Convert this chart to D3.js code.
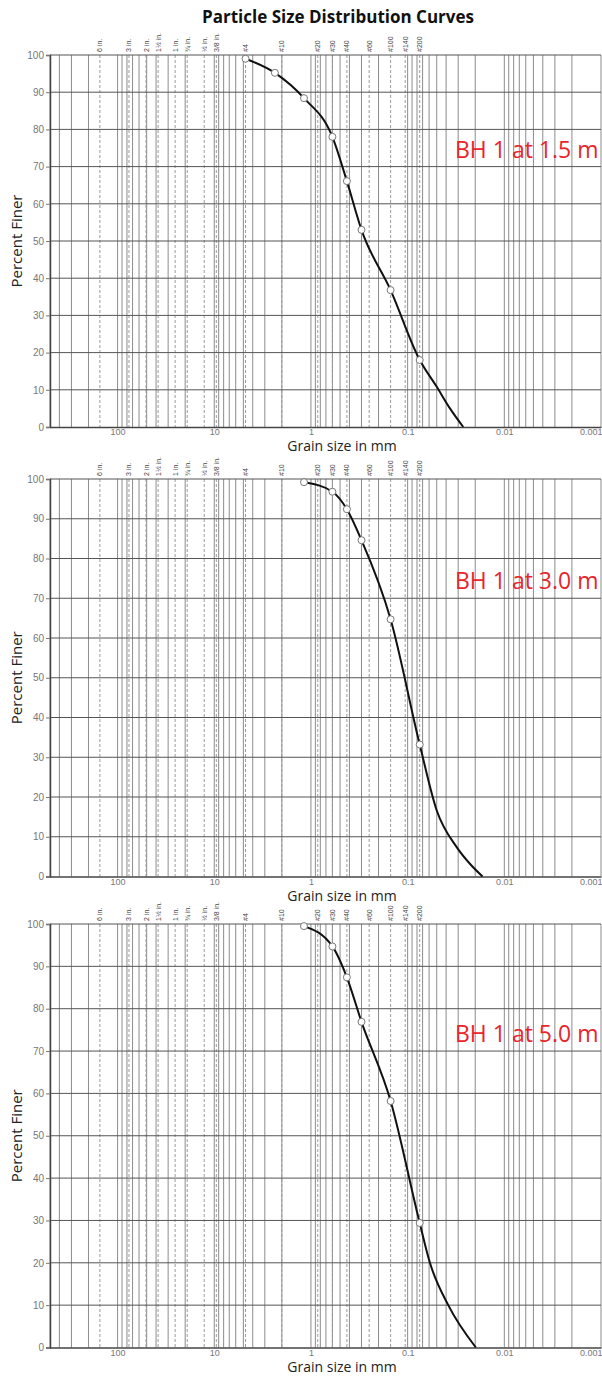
<!DOCTYPE html>
<html>
<head>
<meta charset="utf-8">
<script src="https://cdn.jsdelivr.net/npm/d3@7"></script>
<style>
  body { margin: 0; background: #fff; }
  svg { display: block; }
</style>
</head>
<body>
<div id="chart"></div>
<script>
// sieve openings (mm) and their labels along the top of each panel
var sieveSizes = [152.4, 76.2, 50.8, 38.1, 25.4, 19.05, 12.7, 9.525, 4.75, 2.0,
  0.85, 0.6, 0.425, 0.25, 0.15, 0.106, 0.075];
var sieveLabels = ['6 in.', '3 in.', '2 in.', '1\u00bd in.', '1 in.', '\u00be in.',
  '\u00bd in.', '3/8 in.', '#4', '#10', '#20', '#30', '#40', '#60', '#100', '#140', '#200'];

var xTickValues = [100, 10, 1, 0.1, 0.01, 0.001];
var xTickLabels = ['100', '10', '1', '0.1', '0.01', '0.001'];
var yTickValues = [0, 10, 20, 30, 40, 50, 60, 70, 80, 90, 100];

var sampleNames = ['BH 1 at 1.5 m', 'BH 1 at 3.0 m', 'BH 1 at 5.0 m'];

// sieve results (marked points)
var bh15Size = [4.75, 2.36, 1.18, 0.6, 0.425, 0.3, 0.15, 0.075];
var bh15Finer = [99, 95.2, 88.4, 78, 66.1, 53, 36.8, 18];
var bh30Size = [1.18, 0.6, 0.425, 0.3, 0.15, 0.075];
var bh30Finer = [99.2, 96.8, 92.4, 84.6, 64.7, 33.2];
var bh50Size = [1.18, 0.6, 0.425, 0.3, 0.15, 0.075];
var bh50Finer = [99.5, 94.7, 87.4, 76.9, 58.2, 29.4];

// extended curve past the #200 sieve (no markers)
var bh15TailSize = [0.05, 0.0365, 0.0266];
var bh15TailFiner = [10.8, 5.0, 0];
var bh30TailSize = [0.05, 0.0311, 0.0227, 0.0168];
var bh30TailFiner = [16.6, 7.4, 3.2, 0];
var bh50TailSize = [0.0588, 0.038, 0.0197];
var bh50TailFiner = [20, 10, 0];

var width = 602, height = 1380;
var left = 50, right = 601;

var panels = [
  { top: 55, bottom: 427, size: bh15Size, finer: bh15Finer, tailSize: bh15TailSize, tailFiner: bh15TailFiner },
  { top: 479, bottom: 876.5, size: bh30Size, finer: bh30Finer, tailSize: bh30TailSize, tailFiner: bh30TailFiner },
  { top: 924, bottom: 1347.5, size: bh50Size, finer: bh50Finer, tailSize: bh50TailSize, tailFiner: bh50TailFiner }
];

var svg = d3.select('#chart').append('svg')
  .attr('width', width)
  .attr('height', height);

svg.append('text')
  .attr('x', 338)
  .attr('y', 23)
  .attr('text-anchor', 'middle')
  .style('font-family', 'Open Sans, sans-serif')
  .style('font-weight', 'bold')
  .style('font-size', '17px')
  .style('fill', '#111')
  .text('Particle Size Distribution Curves');

var x = d3.scaleLog().domain([500, 0.001]).range([left, right]);

// minor grid: every 1..9 x decade
var gridSizes = [];
d3.range(-3, 3).forEach(function(k) {
  d3.range(1, 10).forEach(function(m) {
    var v = m * Math.pow(10, k);
    if (v <= 500.0001) gridSizes.push(v);
  });
});

panels.forEach(function(p, i) {
  var y = d3.scaleLinear().domain([0, 100]).range([p.bottom, p.top]);
  var g = svg.append('g').attr('class', 'panel-' + i);

  g.selectAll('line.vgrid')
    .data(gridSizes)
    .enter().append('line')
    .attr('class', 'vgrid')
    .attr('x1', function(d) { return x(d); })
    .attr('x2', function(d) { return x(d); })
    .attr('y1', p.top)
    .attr('y2', p.bottom)
    .attr('stroke', '#8c8c8c')
    .attr('stroke-width', 1);

  g.selectAll('line.sieve')
    .data(sieveSizes)
    .enter().append('line')
    .attr('class', 'sieve')
    .attr('x1', function(d) { return x(d); })
    .attr('x2', function(d) { return x(d); })
    .attr('y1', p.top)
    .attr('y2', p.bottom)
    .attr('stroke', '#9a9a9a')
    .attr('stroke-width', 1)
    .attr('stroke-dasharray', '3,2');

  g.selectAll('text.sieve')
    .data(sieveSizes)
    .enter().append('text')
    .attr('class', 'sieve')
    .attr('transform', function(d) {
      return 'translate(' + (x(d) + 2.5) + ',' + (p.top - 3) + ') rotate(-90)';
    })
    .style('font-family', 'Liberation Sans, Arial, sans-serif')
    .style('font-size', '7px')
    .style('fill', '#444')
    .text(function(d, j) { return sieveLabels[j]; });

  g.selectAll('line.hgrid')
    .data(yTickValues.slice(1))
    .enter().append('line')
    .attr('class', 'hgrid')
    .attr('x1', left)
    .attr('x2', right)
    .attr('y1', function(d) { return y(d); })
    .attr('y2', function(d) { return y(d); })
    .attr('stroke', '#555')
    .attr('stroke-width', 1);

  // axes
  var yAxis = d3.axisLeft(y).tickValues(yTickValues).tickSize(4).tickPadding(2);
  var ya = g.append('g').attr('transform', 'translate(' + left + ',0)').call(yAxis);
  ya.select('.domain').attr('stroke', '#444').attr('stroke-width', 1.5);
  ya.selectAll('.tick line').attr('stroke', '#777');
  ya.selectAll('.tick text')
    .style('font-family', 'Liberation Sans, Arial, sans-serif')
    .style('font-size', '10px')
    .style('fill', '#777');

  var xAxis = d3.axisBottom(x).tickValues(xTickValues)
    .tickFormat(function(d, j) { return xTickLabels[j]; })
    .tickSize(0).tickPadding(2);
  var xa = g.append('g').attr('transform', 'translate(0,' + p.bottom + ')').call(xAxis);
  xa.select('.domain').attr('stroke', '#444').attr('stroke-width', 1.5);
  xa.selectAll('.tick text')
    .style('font-family', 'Liberation Sans, Arial, sans-serif')
    .style('font-size', '9px')
    .style('fill', '#777')
    .attr('text-anchor', function(d) { return d === 0.001 ? 'end' : 'middle'; })
    .attr('dx', function(d) { return d === 0.001 ? '1' : '0'; });

  g.append('text')
    .attr('x', 342)
    .attr('y', p.bottom + 24)
    .attr('text-anchor', 'middle')
    .style('font-family', 'Open Sans, sans-serif')
    .style('font-size', '14px')
    .style('fill', '#222')
    .text('Grain size in mm');

  g.append('text')
    .attr('transform', 'translate(22,' + ((p.top + p.bottom) / 2) + ') rotate(-90)')
    .attr('text-anchor', 'middle')
    .style('font-family', 'Open Sans, sans-serif')
    .style('font-size', '15px')
    .style('fill', '#222')
    .text('Percent Finer');

  g.append('text')
    .attr('x', 455)
    .attr('y', y(72) - 1)
    .style('font-family', 'Open Sans, sans-serif')
    .style('font-size', '23px')
    .style('fill', '#e8262a')
    .text(sampleNames[i]);

  // grading curve
  var pts = p.size.map(function(s, j) { return [s, p.finer[j]]; })
    .concat(p.tailSize.map(function(s, j) { return [s, p.tailFiner[j]]; }));

  var line = d3.line()
    .x(function(d) { return x(d[0]); })
    .y(function(d) { return y(d[1]); })
    .curve(d3.curveMonotoneX);

  g.append('path')
    .datum(pts)
    .attr('d', line)
    .attr('fill', 'none')
    .attr('stroke', '#111')
    .attr('stroke-width', 2);

  g.selectAll('circle.pt')
    .data(p.size)
    .enter().append('circle')
    .attr('class', 'pt')
    .attr('cx', function(d) { return x(d); })
    .attr('cy', function(d, j) { return y(p.finer[j]); })
    .attr('r', 3.5)
    .attr('fill', '#fff')
    .attr('stroke', '#777')
    .attr('stroke-width', 1);
});
</script>
</body>
</html>
